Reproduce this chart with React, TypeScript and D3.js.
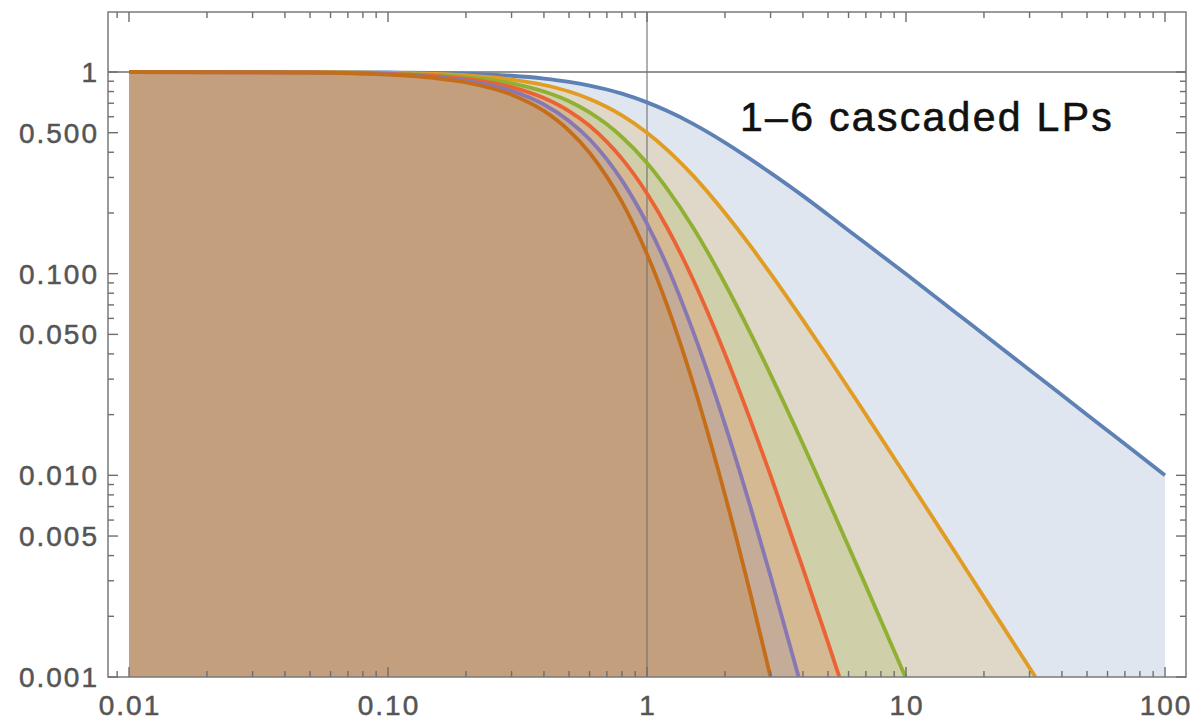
import { useEffect, useRef } from 'react'
import * as d3 from 'd3'

// frequency samples (x, normalised) shared by all series
const freqs = [0.01, 0.05, 0.1, 0.15, 0.2, 0.3, 0.4, 0.5, 0.6, 0.7, 0.8, 1, 1.2, 1.5, 2, 2.5, 3, 4, 5, 7, 10, 15, 20, 30, 50, 70, 100]

// gain of 1..6 cascaded low passes (each stops where it leaves the bottom)
const gain1 = [1, 0.999, 0.995, 0.989, 0.981, 0.958, 0.928, 0.894, 0.857, 0.819, 0.781, 0.707, 0.64, 0.555, 0.447, 0.371, 0.316, 0.243, 0.196, 0.141, 0.0995, 0.0665, 0.0499, 0.0333, 0.02, 0.0143, 0.01]
const gain2 = [1, 0.998, 0.99, 0.978, 0.962, 0.917, 0.862, 0.8, 0.735, 0.671, 0.61, 0.5, 0.41, 0.308, 0.2, 0.138, 0.1, 0.0588, 0.0385, 0.02, 0.0099, 0.00442, 0.00249, 0.00111]
const gain3 = [1, 0.996, 0.985, 0.967, 0.943, 0.879, 0.8, 0.716, 0.631, 0.55, 0.476, 0.354, 0.262, 0.171, 0.0894, 0.0512, 0.0316, 0.0143, 0.00754, 0.00283]
const gain4 = [1, 0.995, 0.98, 0.957, 0.925, 0.842, 0.743, 0.64, 0.541, 0.45, 0.372, 0.25, 0.168, 0.0947, 0.04, 0.019, 0.01, 0.00346, 0.00148]
const gain5 = [1, 0.994, 0.975, 0.946, 0.907, 0.806, 0.69, 0.572, 0.464, 0.369, 0.29, 0.177, 0.108, 0.0525, 0.0179, 0.00707, 0.00316]
const gain6 = [1, 0.993, 0.971, 0.935, 0.889, 0.772, 0.641, 0.512, 0.398, 0.302, 0.227, 0.125, 0.0688, 0.0291, 0.008, 0.00263]

// x where each curve hits the bottom of the plot (null = runs to the right edge)
const cutoffs = [null, 31.6, 9.95, 5.53, 3.85, 3.0]

const seriesColors = ['#5E81B5', '#E19C24', '#8FB032', '#EB6235', '#8778B3', '#C56E1A']

const xTickValues = [0.01, 0.1, 1, 10, 100]
const xTickLabels = ['0.01', '0.10', '1', '10', '100']
const yTickValues = [1, 0.5, 0.1, 0.05, 0.01, 0.005, 0.001]
const yTickLabels = ['1', '0.500', '0.100', '0.050', '0.010', '0.005', '0.001']

const title = '1\u20136 cascaded LPs'

const width = 1194
const height = 722

export default function App() {
  const svgRef = useRef<SVGSVGElement>(null)

  useEffect(() => {
    if (!svgRef.current) return
    const svg = d3.select(svgRef.current)
    svg.selectAll('*').remove()

    const frame = { left: 108, right: 1186, top: 12, bottom: 677 }

    const x = d3.scaleLog().domain([0.01, 100]).range([129, 1165])
    const y = d3.scaleLog().domain([0.001, 1]).range([677, 72])
    const yBottom = y(0.001)

    const gains = [gain1, gain2, gain3, gain4, gain5, gain6]
    const series = gains.map((g, i) => {
      const pts: [number, number][] = g.map((v, j) => [freqs[j], v])
      const c = cutoffs[i]
      if (c !== null) pts.push([c, 0.001])
      return pts
    })

    svg.append('defs').append('clipPath').attr('id', 'plot-clip')
      .append('rect')
      .attr('x', frame.left).attr('y', frame.top)
      .attr('width', frame.right - frame.left).attr('height', frame.bottom - frame.top)

    const plot = svg.append('g').attr('clip-path', 'url(#plot-clip)')

    const area = d3.area<[number, number]>()
      .x(d => x(d[0]))
      .y0(yBottom)
      .y1(d => y(d[1]))
      .curve(d3.curveMonotoneX)

    const line = d3.line<[number, number]>()
      .x(d => x(d[0]))
      .y(d => y(d[1]))
      .curve(d3.curveMonotoneX)

    // fills first
    series.forEach((pts, i) => {
      plot.append('path')
        .datum(pts)
        .attr('d', area)
        .attr('fill', seriesColors[i])
        .attr('fill-opacity', 0.2)
    })

    // axes through (1, 1)
    plot.append('line')
      .attr('x1', frame.left).attr('x2', frame.right)
      .attr('y1', y(1)).attr('y2', y(1))
      .attr('stroke', '#707070').attr('stroke-width', 1.4)
    plot.append('line')
      .attr('x1', x(1)).attr('x2', x(1))
      .attr('y1', frame.top).attr('y2', frame.bottom)
      .attr('stroke', '#707070').attr('stroke-width', 1.1)

    series.forEach((pts, i) => {
      plot.append('path')
        .datum(pts)
        .attr('d', line)
        .attr('fill', 'none')
        .attr('stroke', seriesColors[i])
        .attr('stroke-width', 3.8)
    })

    // frame
    svg.append('rect')
      .attr('x', frame.left).attr('y', frame.top)
      .attr('width', frame.right - frame.left).attr('height', frame.bottom - frame.top)
      .attr('fill', 'none')
      .attr('stroke', '#7a7a7a')
      .attr('stroke-width', 1.5)

    const ticks = svg.append('g').attr('stroke', '#6e6e6e').attr('stroke-width', 1.4)

    // x ticks, top and bottom
    const xMinor: number[] = [0.009]
    for (const d of [0.01, 0.1, 1, 10]) for (let k = 2; k <= 9; k++) xMinor.push(+(k * d).toPrecision(3))
    const xAll = [...xTickValues.map(v => ({ v, len: 10 })), ...xMinor.map(v => ({ v, len: 6 }))]
    xAll.forEach(t => {
      const px = x(t.v)
      ticks.append('line').attr('x1', px).attr('x2', px).attr('y1', frame.bottom).attr('y2', frame.bottom - t.len)
      ticks.append('line').attr('x1', px).attr('x2', px).attr('y1', frame.top).attr('y2', frame.top + t.len)
    })

    // y ticks, left and right
    const yMinor: number[] = []
    for (const d of [0.001, 0.01, 0.1]) for (let k = 2; k <= 9; k++) if (k !== 5) yMinor.push(+(k * d).toPrecision(3))
    const yAll = [...yTickValues.map(v => ({ v, len: 10 })), ...yMinor.map(v => ({ v, len: 6 }))]
    yAll.forEach(t => {
      const py = y(t.v)
      ticks.append('line').attr('x1', frame.left).attr('x2', frame.left + t.len).attr('y1', py).attr('y2', py)
      ticks.append('line').attr('x1', frame.right).attr('x2', frame.right - t.len).attr('y1', py).attr('y2', py)
    })

    const labelFont = '"Liberation Sans", Arial, sans-serif'

    svg.append('g').selectAll('text')
      .data(xTickValues)
      .enter()
      .append('text')
      .attr('x', d => x(d) + 1)
      .attr('y', 715)
      .attr('text-anchor', 'middle')
      .attr('fill', '#555')
      .attr('stroke', '#555')
      .attr('stroke-width', 0.5)
      .style('font-family', labelFont)
      .style('font-size', '28px')
      .style('letter-spacing', '2px')
      .text((d, i) => xTickLabels[i])

    svg.append('g').selectAll('text')
      .data(yTickValues)
      .enter()
      .append('text')
      .attr('x', 99)
      .attr('y', d => y(d) + 10)
      .attr('text-anchor', 'end')
      .attr('fill', '#555')
      .attr('stroke', '#555')
      .attr('stroke-width', 0.5)
      .style('font-family', labelFont)
      .style('font-size', '28px')
      .style('letter-spacing', '2px')
      .text((d, i) => yTickLabels[i])

    svg.append('text')
      .attr('x', 740)
      .attr('y', 131)
      .attr('fill', '#111')
      .attr('stroke', '#111')
      .attr('stroke-width', 0.6)
      .style('font-family', labelFont)
      .style('font-size', '41px')
      .style('letter-spacing', '2.3px')
      .text(title)
  }, [])

  return (
    <svg
      ref={svgRef}
      width={width}
      height={height}
      style={{ position: 'absolute', left: 0, top: 0, background: '#fff' }}
    />
  )
}
